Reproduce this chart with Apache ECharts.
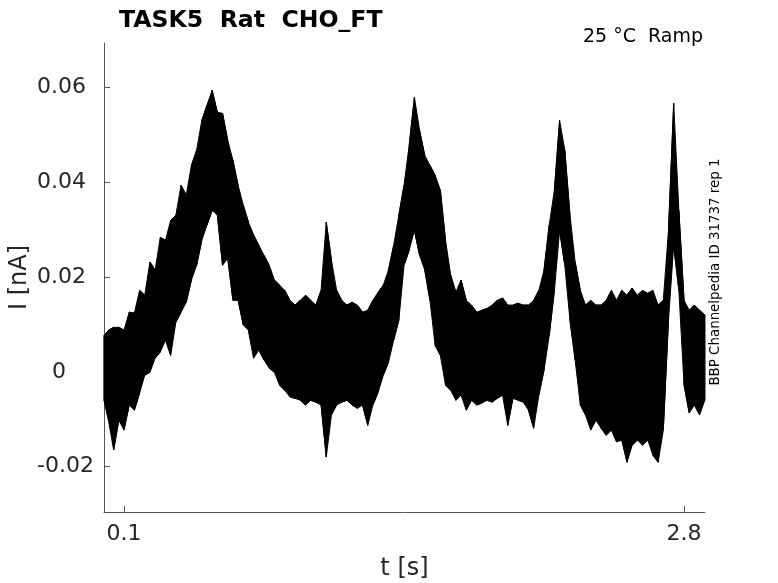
<!DOCTYPE html>
<html><head><meta charset="utf-8">
<script src="https://cdn.jsdelivr.net/npm/echarts@6/dist/echarts.min.js"></script>
<style>html,body{margin:0;padding:0;background:#fff}#c{width:778px;height:583px}</style>
</head><body><div id="c"></div>
<script>
// time samples [s]
const t = [0.004,0.025,0.05,0.075,0.1,0.125,0.15,0.175,0.2,0.225,0.25,0.275,0.3,0.325,0.35,0.375,0.4,0.425,0.45,0.475,
0.5,0.525,0.55,0.575,0.6,0.625,0.65,0.675,0.7,0.725,0.75,0.775,0.8,0.825,0.85,0.875,0.9,0.925,0.95,0.975,
1.0,1.025,1.05,1.075,1.1,1.125,1.15,1.175,1.2,1.225,1.25,1.275,1.3,1.325,1.35,1.375,1.4,1.425,1.45,1.475,
1.5,1.525,1.55,1.575,1.6,1.625,1.65,1.675,1.7,1.725,1.75,1.775,1.8,1.825,1.85,1.875,1.9,1.925,1.95,1.975,
2.0,2.025,2.05,2.075,2.1,2.125,2.15,2.175,2.2,2.225,2.25,2.275,2.3,2.325,2.35,2.375,2.4,2.425,2.45,2.475,
2.5,2.525,2.55,2.575,2.6,2.625,2.65,2.675,2.7,2.725,2.75,2.775,2.8,2.825,2.85,2.875,2.9];
// upper envelope of the current trace [nA]
const iHigh = [0.0077,0.0088,0.0094,0.0094,0.0088,0.0126,0.0124,0.0172,0.0162,0.0232,0.0215,0.0284,0.0278,0.0320,0.0331,0.0394,0.0373,0.0436,0.0468,0.0531,
0.0563,0.0595,0.0548,0.0546,0.0489,0.0447,0.0394,0.0352,0.0316,0.0289,0.0267,0.0246,0.0225,0.0194,0.0183,0.0172,0.0151,0.0141,0.0151,0.0162,
0.0151,0.0141,0.0172,0.0316,0.0236,0.0172,0.0151,0.0141,0.0147,0.0141,0.0126,0.0130,0.0151,0.0168,0.0183,0.0215,0.0267,0.0331,0.0394,0.0479,
0.0580,0.0510,0.0457,0.0436,0.0415,0.0384,0.0278,0.0204,0.0168,0.0194,0.0151,0.0141,0.0126,0.0130,0.0134,0.0141,0.0151,0.0156,0.0141,0.0141,
0.0145,0.0141,0.0141,0.0151,0.0172,0.0215,0.0310,0.0384,0.0531,0.0468,0.0331,0.0232,0.0172,0.0141,0.0151,0.0141,0.0141,0.0151,0.0172,0.0151,
0.0172,0.0162,0.0177,0.0162,0.0172,0.0166,0.0172,0.0141,0.0151,0.0299,0.0567,0.0341,0.0151,0.0130,0.0141,0.0130,0.0120];
// lower envelope of the current trace [nA]
const iLow = [-0.0060,-0.0102,-0.0165,-0.0102,-0.0123,-0.0070,-0.0081,-0.0045,-0.0007,-0.0001,0.0029,0.0042,0.0067,0.0035,0.0105,0.0126,0.0147,0.0194,0.0225,0.0278,
0.0310,0.0341,0.0331,0.0225,0.0240,0.0151,0.0151,0.0099,0.0088,0.0029,0.0046,0.0025,0.0008,-0.0001,-0.0028,-0.0039,-0.0053,-0.0056,-0.0060,-0.0070,
-0.0060,-0.0064,-0.0070,-0.0180,-0.0091,-0.0070,-0.0064,-0.0060,-0.0070,-0.0077,-0.0070,-0.0113,-0.0070,-0.0043,-0.0007,0.0020,0.0067,0.0109,0.0225,0.0257,
0.0299,0.0246,0.0215,0.0151,0.0056,0.0035,-0.0028,-0.0039,-0.0060,-0.0049,-0.0081,-0.0060,-0.0070,-0.0066,-0.0060,-0.0064,-0.0056,-0.0049,-0.0113,-0.0056,
-0.0060,-0.0064,-0.0081,-0.0119,-0.0049,0.0004,0.0077,0.0172,0.0299,0.0225,0.0109,0.0025,-0.0070,-0.0091,-0.0123,-0.0102,-0.0119,-0.0134,-0.0123,-0.0148,
-0.0144,-0.0191,-0.0155,-0.0144,-0.0155,-0.0144,-0.0176,-0.0191,-0.0123,0.0109,0.0267,0.0172,-0.0028,-0.0087,-0.0070,-0.0091,-0.0060];
const xTicks = [0.1, 2.8];
const yTicks = [-0.02, 0, 0.02, 0.04, 0.06];

const zig = [];
t.forEach((x, i) => {
  if (i % 2 === 0) { zig.push([x, iHigh[i]]); zig.push([x, iLow[i]]); }
  else { zig.push([x, iLow[i]]); zig.push([x, iHigh[i]]); }
});

function renderBand(params, api) {
  if (params.dataIndex !== 0) return;
  const pts = [];
  for (let i = 0; i < t.length; i++) pts.push(api.coord([t[i], iHigh[i]]));
  for (let i = t.length - 1; i >= 0; i--) pts.push(api.coord([t[i], iLow[i]]));
  return {type: 'polygon', shape: {points: pts}, style: {fill: '#000', stroke: '#000', lineWidth: 1}};
}

const FONT = 'DejaVu Sans';
const chart = echarts.init(document.getElementById('c'), null, {renderer: 'canvas'});
chart.setOption({
  animation: false,
  backgroundColor: '#fff',
  textStyle: {fontFamily: FONT},
  title: {
    text: 'TASK5  Rat  CHO_FT', left: 114, top: 4,
    textStyle: {fontFamily: FONT, fontWeight: 'bold', fontSize: 23.6, color: '#000'}
  },
  grid: {left: 104, right: 73, top: 43, bottom: 71, containLabel: false, outerBoundsMode: 'none'},
  xAxis: {
    type: 'value', min: 0.0035, max: 2.901,
    name: 't [s]', nameLocation: 'middle', nameGap: 45, nameMoveOverlap: false,
    nameTextStyle: {fontFamily: FONT, fontSize: 24, color: '#262626'},
    axisLine: {show: true, onZero: false, lineStyle: {color: '#555', width: 1}},
    axisTick: {show: true, inside: true, length: 6, lineStyle: {color: '#555'}, customValues: xTicks},
    axisLabel: {show: true, margin: 11, fontSize: 22, color: '#262626', fontFamily: FONT, customValues: xTicks,
      formatter: v => String(v)},
    splitLine: {show: false}
  },
  yAxis: {
    type: 'value', min: -0.0296, max: 0.06945,
    name: 'I [nA]', nameLocation: 'middle', nameGap: 72, nameMoveOverlap: false,
    nameTextStyle: {fontFamily: FONT, fontSize: 24, color: '#262626'},
    axisLine: {show: true, onZero: false, lineStyle: {color: '#555', width: 1}},
    axisTick: {show: true, inside: true, length: 6, lineStyle: {color: '#555'}, customValues: yTicks},
    axisLabel: {show: true, margin: 67, align: 'left', fontSize: 22, color: '#262626', fontFamily: FONT, customValues: yTicks,
      formatter: v => (Math.abs(v) < 1e-9 ? '{z|0}' : '{n|' + String(+v.toFixed(2)) + '}'),
      rich: {
        z: {fontSize: 22, fontFamily: FONT, color: '#262626', padding: [0, 0, 0, 15]},
        n: {fontSize: 22, fontFamily: FONT, color: '#262626'}
      }},
    splitLine: {show: false}
  },
  series: [
    {type: 'custom', renderItem: renderBand, data: [[t[0], iHigh[0]]], z: 2, silent: true},
    {type: 'line', data: zig, symbol: 'none', lineStyle: {color: '#000', width: 1}, z: 3}
  ],
  graphic: [
    {type: 'text', right: 75, top: 28, style: {text: '25 °C  Ramp', font: '19px "DejaVu Sans"', fill: '#000'}},
    {type: 'text', x: 709, y: 272, rotation: Math.PI / 2,
      style: {text: 'BBP Channelpedia ID 31737 rep 1', font: '13.4px "DejaVu Sans"', fill: '#000', align: 'center', verticalAlign: 'top'}}
  ]
});
</script></body></html>
